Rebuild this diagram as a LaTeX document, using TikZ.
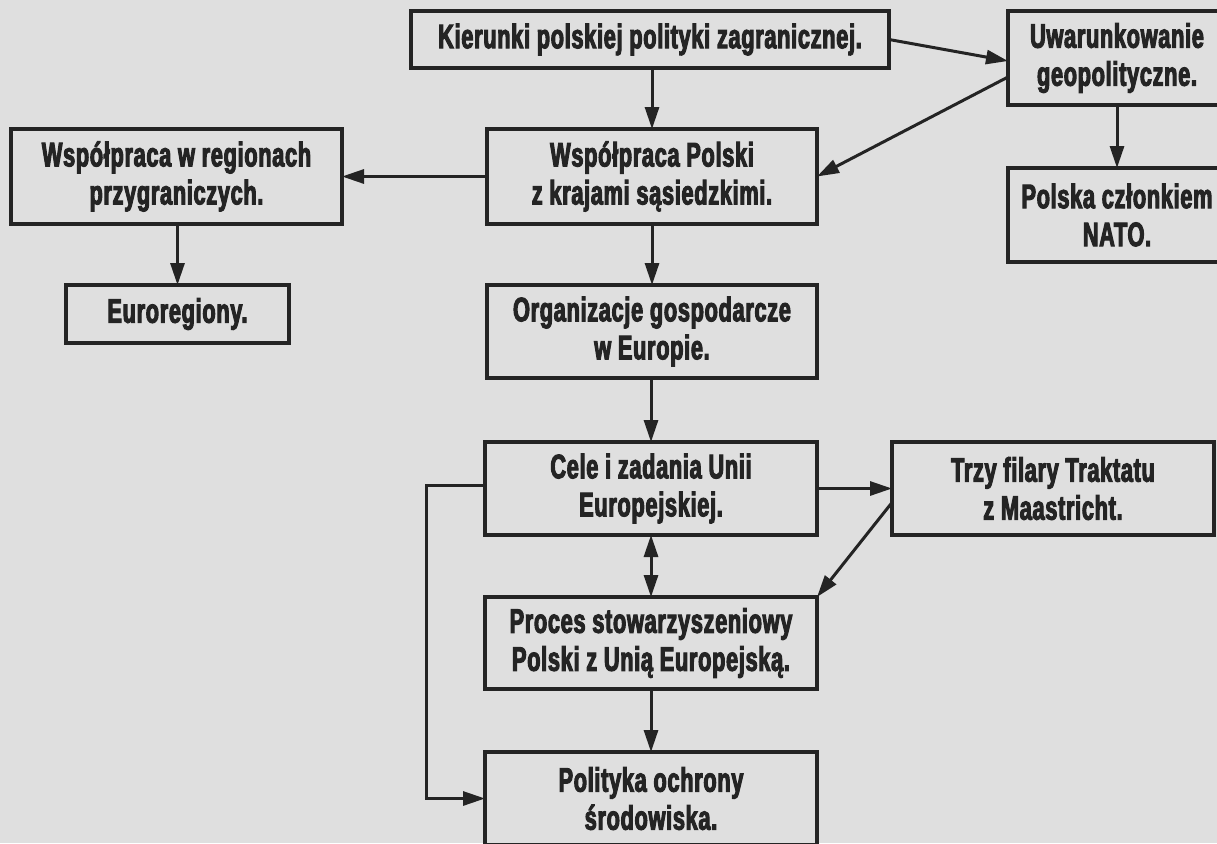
\documentclass[tikz,border=0pt]{standalone}
\usepackage{fontspec}
\newfontfamily\boxfont[FakeStretch=0.64,FakeBold=3,LetterSpace=2]{Liberation Sans Bold}
\usetikzlibrary{arrows.meta,calc}
\definecolor{bgc}{RGB}{223,223,223}
\definecolor{ink}{RGB}{36,36,36}
\tikzset{
  box/.style={draw=ink, line width=3.2pt, rectangle, inner sep=0pt, outer sep=0pt,
    align=center, text=ink, font=\boxfont\fontsize{34}{38}\selectfont},
  arr/.style={draw=ink, line width=3pt, -{Triangle[length=22pt,width=14pt]}},
  darr/.style={draw=ink, line width=3pt, {Triangle[length=22pt,width=14pt]}-{Triangle[length=22pt,width=14pt]}},
}
\begin{document}
\begin{tikzpicture}[x=1pt,y=-1pt]
\fill[bgc] (0,0) rectangle (1217,843);
\useasboundingbox (0,0) rectangle (1217,843);
\clip (0,0) rectangle (1217,843);
\node[box, minimum width=478pt, minimum height=57pt] (kier) at (650,39.5) {Kierunki polskiej polityki zagranicznej.};
\node[box, minimum width=218pt, minimum height=94pt] (uwar) at (1117,58) {Uwarunkowanie\\geopolityczne.};
\node[box, minimum width=330pt, minimum height=95pt] (wsp) at (652,176.5) {Współpraca Polski\\z krajami sąsiedzkimi.};
\node[box, minimum width=331pt, minimum height=95pt] (reg) at (176.5,176.5) {Współpraca w regionach\\przygraniczych.};
\node[box, minimum width=223pt, minimum height=58pt] (euro) at (177.5,314) {Euroregiony.};
\node[box, minimum width=218pt, minimum height=94pt] (nato) at (1117,215) {Polska członkiem\\NATO.};
\node[box, minimum width=330pt, minimum height=93pt] (org) at (652,331.5) {Organizacje gospodarcze\\w Europie.};
\node[box, minimum width=332pt, minimum height=93pt] (cele) at (651,488.5) {Cele i zadania Unii\\Europejskiej.};
\node[box, minimum width=322pt, minimum height=93pt] (trzy) at (1053,488.5) {Trzy filary Traktatu\\z Maastricht.};
\node[box, minimum width=332pt, minimum height=92pt] (proc) at (651,643) {Proces stowarzyszeniowy\\Polski z Unią Europejską.};
\node[box, minimum width=332pt, minimum height=93pt] (polit) at (651,798.5) {Polityka ochrony\\środowiska.};
\coordinate (lx) at (426,0);
\coordinate (cw) at ($(cele.west)+(0,-3)$);
\coordinate (uw1) at ($(uwar.west)+(0,3)$);
\coordinate (uw2) at ($(uwar.west)+(0,19)$);
\coordinate (tw) at ($(trzy.west)+(0,14)$);
% connectors
\draw[arr] (kier.east) -- (uw1);
\draw[arr] (kier.south -| wsp.north) -- (wsp.north);
\draw[arr] (uw2) -- (wsp.east);
\draw[arr] (uwar.south) -- (nato.north);
\draw[arr] (wsp.west) -- (reg.east);
\draw[arr] (reg.south -| euro.north) -- (euro.north);
\draw[arr] (wsp.south) -- (org.north);
\draw[arr] (org.south -| cele.north) -- (cele.north);
\draw[arr] (cele.east) -- (cele.east -| trzy.west);
\draw[arr] (tw) -- (proc.north east);
\draw[darr] (cele.south) -- (proc.north);
\draw[arr] (proc.south) -- (polit.north);
\draw[arr] (cw) -- (cw -| lx) |- (polit.west);
\end{tikzpicture}
\end{document}
